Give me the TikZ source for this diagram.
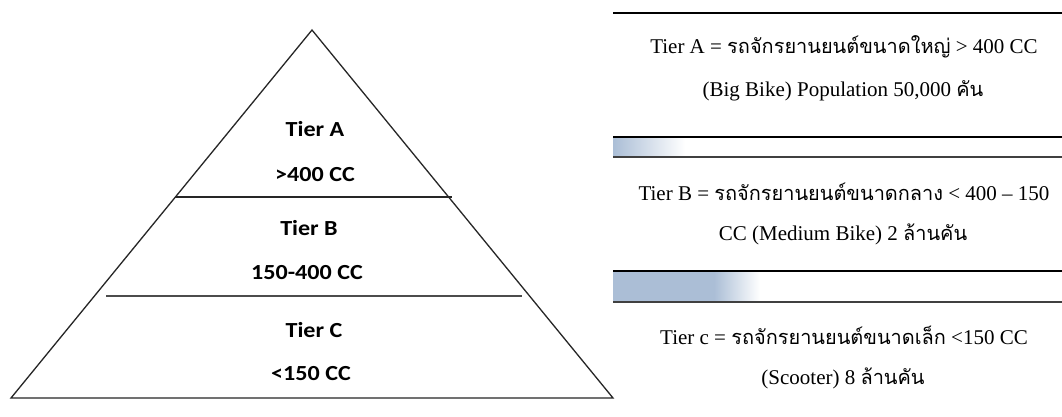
\documentclass[tikz,border=0pt]{standalone}
\usepackage{fontspec}
\setmainfont{Liberation Serif}
\newfontfamily\thai[Script=Thai,Scale=0.95]{Loma}
\newfontfamily\pyrfont[FakeStretch=1.12]{Carlito}
\definecolor{bandblue}{RGB}{171,190,214}
\newcommand{\thx}[1]{{\thai #1}}
\begin{document}
\begin{tikzpicture}[x=1pt,y=-1pt,
  pyrline/.style={line width=1.3pt,black!85},
  sepline/.style={line width=1.8pt,black},
  sepgray/.style={line width=1.6pt,black!75},
  pyrtext/.style={font=\pyrfont\bfseries\fontsize{21.5}{24}\selectfont,inner sep=0pt},
  desc/.style={font=\fontsize{21}{24}\selectfont,inner sep=0pt}]
\useasboundingbox (0,0) rectangle (1062,416);
\fill[white] (0,0) rectangle (1062,416);
% blue bands
\shade[left color=bandblue,right color=white] (613,138) rectangle (685,156);
\fill[bandblue] (613,272) rectangle (715,301);
\shade[left color=bandblue,right color=white] (714,272) rectangle (760,301);
% pyramid
\coordinate (apex) at (312,30);
\coordinate (bl) at (11,398);
\coordinate (br) at (613,398);
\coordinate (abL) at (175,197);
\coordinate (abR) at (452,197);
\coordinate (bcL) at (106,296);
\coordinate (bcR) at (522,296);
\draw[pyrline,line join=miter] (apex) -- (bl) -- (br) -- cycle;
\draw[pyrline] (abL) -- (abR);
\draw[pyrline,black!70] (bcL) -- (bcR);
\node[pyrtext] (ta) at (315,129) {Tier A};
\node[pyrtext] (ta2) at (315,175) {>400 CC};
\node[pyrtext] (tb) at (309,228) {Tier B};
\node[pyrtext] (tb2) at (307,273) {150-400 CC};
\node[pyrtext] (tc) at (314,330) {Tier C};
\node[pyrtext] (tc2) at (311,374) {<150 CC};
% right separators
\coordinate (s1L) at (613,13);  \coordinate (s1R) at (1062,13);
\coordinate (s2L) at (613,137); \coordinate (s2R) at (1062,137);
\coordinate (s3L) at (613,157); \coordinate (s3R) at (1062,157);
\coordinate (s4L) at (613,271); \coordinate (s4R) at (1062,271);
\coordinate (s5L) at (613,302); \coordinate (s5R) at (1062,302);
\draw[sepline] (s1L) -- (s1R);
\draw[sepline] (s2L) -- (s2R);
\draw[sepgray] (s3L) -- (s3R);
\draw[sepline] (s4L) -- (s4R);
\draw[sepgray] (s5L) -- (s5R);
% descriptions
\node[desc] (da1) at (844,47) {Tier A = \thx{รถจักรยานยนต์ขนาดใหญ่} > 400 CC};
\node[desc] (da2) at (843,91) {(Big Bike) Population 50,000 \thx{คัน}};
\node[desc] (db1) at (844,192) {Tier B = \thx{รถจักรยานยนต์ขนาดกลาง} < 400 – 150};
\node[desc] (db2) at (843,234) {CC (Medium Bike) 2 \thx{ล้านคัน}};
\node[desc] (dc1) at (844,335) {Tier c = \thx{รถจักรยานยนต์ขนาดเล็ก} <150 CC};
\node[desc] (dc2) at (843,378) {(Scooter) 8 \thx{ล้านคัน}};
\end{tikzpicture}
\end{document}
